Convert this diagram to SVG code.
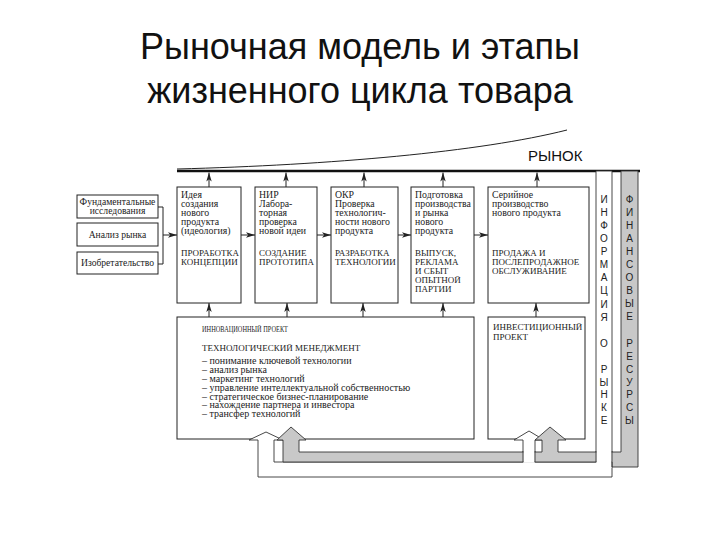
<svg xmlns="http://www.w3.org/2000/svg" width="720" height="540" viewBox="0 0 720 540">
<style>
.title{font-family:"Liberation Sans",Arial,sans-serif;font-size:36px;fill:#111;text-anchor:middle}
.box{fill:#fff;stroke:#222;stroke-width:1}
.t{font-family:"Liberation Serif","Times New Roman",serif;font-size:9.8px;fill:#222}
.c{font-family:"Liberation Serif","Times New Roman",serif;font-size:9px;fill:#222}
.l{font-family:"Liberation Serif","Times New Roman",serif;font-size:10px;fill:#222}
.tc{font-family:"Liberation Serif","Times New Roman",serif;font-size:9.6px;fill:#222;text-anchor:middle}
.v{font-family:"Liberation Sans",Arial,sans-serif;font-size:10px;fill:#222;text-anchor:middle}
.ln{fill:none;stroke:#222;stroke-width:1}
.arr{fill:none;stroke:#222;stroke-width:1;marker-end:url(#ah)}
</style>
<defs>
<marker id="ah" viewBox="0 0 10 6" refX="10" refY="3" markerWidth="9" markerHeight="5.5" markerUnits="userSpaceOnUse" orient="auto">
<path d="M0,0 L10,3 L0,6 L2.5,3 Z" fill="#222"/>
</marker>
</defs>
<rect width="720" height="540" fill="#fff"/>
<text class="title" x="360" y="59">Рыночная модель и этапы</text>
<text class="title" x="360" y="103">жизненного цикла товара</text>

<g id="market">
<path class="ln" d="M177,169 C330,165 480,152 567,130"/>
<line x1="177" y1="171" x2="640" y2="171" stroke="#111" stroke-width="2.5"/>
<text x="528" y="161" font-family="Liberation Sans,Arial,sans-serif" font-size="15" fill="#111">РЫНОК</text>
</g>

<g id="src-fund"><rect class="box" x="77" y="195" width="81" height="23"/>
<text class="tc" x="117.5" y="205">Фундаментальные</text><text class="tc" x="117.5" y="214">исследования</text></g>
<g id="src-market"><rect class="box" x="77" y="223" width="81" height="23"/>
<text class="tc" x="117.5" y="238">Анализ рынка</text></g>
<g id="src-invent"><rect class="box" x="77" y="252" width="81" height="22"/>
<text class="tc" x="117.5" y="266">Изобретательство</text></g>

<g id="stage1"><rect class="box" x="177" y="187" width="64" height="116"/>
<text class="t" x="181" y="198">Идея</text><text class="t" x="181" y="207">создания</text><text class="t" x="181" y="216">нового</text><text class="t" x="181" y="225">продукта</text><text class="t" x="181" y="234">(идеология)</text>
<text class="c" x="181" y="256">ПРОРАБОТКА</text><text class="c" x="181" y="265">КОНЦЕПЦИИ</text></g>
<g id="stage2"><rect class="box" x="255" y="187" width="62" height="116"/>
<text class="t" x="259" y="198">НИР</text><text class="t" x="259" y="207">Лабора-</text><text class="t" x="259" y="216">торная</text><text class="t" x="259" y="225">проверка</text><text class="t" x="259" y="234">новой идеи</text>
<text class="c" x="259" y="256">СОЗДАНИЕ</text><text class="c" x="259" y="265">ПРОТОТИПА</text></g>
<g id="stage3"><rect class="box" x="331" y="187" width="67" height="116"/>
<text class="t" x="335" y="198">ОКР</text><text class="t" x="335" y="207">Проверка</text><text class="t" x="335" y="216">технологич-</text><text class="t" x="335" y="225">ности нового</text><text class="t" x="335" y="234">продукта</text>
<text class="c" x="335" y="256">РАЗРАБОТКА</text><text class="c" x="335" y="265">ТЕХНОЛОГИИ</text></g>
<g id="stage4"><rect class="box" x="411" y="187" width="63" height="116"/>
<text class="t" x="415" y="198">Подготовка</text><text class="t" x="415" y="207">производства</text><text class="t" x="415" y="216">и рынка</text><text class="t" x="415" y="225">нового</text><text class="t" x="415" y="234">продукта</text>
<text class="c" x="415" y="256">ВЫПУСК,</text><text class="c" x="415" y="265">РЕКЛАМА</text><text class="c" x="415" y="274">И СБЫТ</text><text class="c" x="415" y="283">ОПЫТНОЙ</text><text class="c" x="415" y="292">ПАРТИИ</text></g>
<g id="stage5"><rect class="box" x="488" y="187" width="101" height="116"/>
<text class="t" x="492" y="198">Серийное</text><text class="t" x="492" y="207">производство</text><text class="t" x="492" y="216">нового продукта</text>
<text class="c" x="492" y="256">ПРОДАЖА И</text><text class="c" x="492" y="265">ПОСЛЕПРОДАЖНОЕ</text><text class="c" x="492" y="274">ОБСЛУЖИВАНИЕ</text></g>

<g id="innovation"><rect class="box" x="177" y="317" width="297" height="122"/>
<text class="c" x="202" y="332" font-size="9.5" textLength="86" lengthAdjust="spacingAndGlyphs">ИННОВАЦИОННЫЙ ПРОЕКТ</text>
<text class="c" x="202" y="351">ТЕХНОЛОГИЧЕСКИЙ МЕНЕДЖМЕНТ</text>
<text class="l" x="202" y="363.5">– понимание ключевой технологии</text>
<text class="l" x="202" y="372.5">– анализ рынка</text>
<text class="l" x="202" y="381.5">– маркетинг технологий</text>
<text class="l" x="202" y="390.5">– управление интеллектуальной собственностью</text>
<text class="l" x="202" y="399.5">– стратегическое бизнес-планирование</text>
<text class="l" x="202" y="408">– нахождение партнера и инвестора</text>
<text class="l" x="202" y="417">– трансфер технологий</text></g>
<g id="investment"><rect class="box" x="488" y="317" width="97" height="122"/>
<text class="c" x="493" y="330">ИНВЕСТИЦИОННЫЙ</text><text class="c" x="493" y="340">ПРОЕКТ</text></g>

<g id="info-flow">
<path d="M596,171 L596,462 L535,462 L535,440 L544,440 L529,431 L514,440 L523,440 L523,462 L274,462 L274,440 L283,440 L266,432 L249,440 L258,440 L258,477 L612,477 L612,171 Z" fill="#fff" stroke="#333" stroke-width="0.9"/>
</g>
<g id="finance-flow">
<path d="M621,171 L638,171 L638,467 L612,467 L612,462 L283,462 L283,440 L277,440 L291,427 L306,440 L299,440 L299,452 L542,452 L542,440 L535,440 L550,427 L566,440 L558,440 L558,452 L621,452 Z" fill="#c8c8c8" stroke="#333" stroke-width="0.9"/>
<rect x="523.5" y="451" width="11" height="11.8" fill="#fff"/>
<rect x="596.5" y="451" width="15" height="16.8" fill="#fff"/>
<path d="M523,451 V462 M535,451 V462 M596,451 V462 M612,451 V467" stroke="#333" stroke-width="0.9" fill="none"/>
</g>

<g id="info-label">
<text class="v" x="604" y="203">И</text><text class="v" x="604" y="216">Н</text><text class="v" x="604" y="229">Ф</text><text class="v" x="604" y="242">О</text><text class="v" x="604" y="255">Р</text><text class="v" x="604" y="268">М</text><text class="v" x="604" y="281">А</text><text class="v" x="604" y="294">Ц</text><text class="v" x="604" y="308">И</text><text class="v" x="604" y="321">Я</text>
<text class="v" x="604" y="347">О</text>
<text class="v" x="604" y="373">Р</text><text class="v" x="604" y="386">Ы</text><text class="v" x="604" y="398">Н</text><text class="v" x="604" y="411">К</text><text class="v" x="604" y="424">Е</text>
</g>
<g id="finance-label">
<text class="v" x="629.5" y="203">Ф</text><text class="v" x="629.5" y="216">И</text><text class="v" x="629.5" y="229">Н</text><text class="v" x="629.5" y="242">А</text><text class="v" x="629.5" y="255">Н</text><text class="v" x="629.5" y="268">С</text><text class="v" x="629.5" y="281">О</text><text class="v" x="629.5" y="294">В</text><text class="v" x="629.5" y="307">Ы</text><text class="v" x="629.5" y="320">Е</text>
<text class="v" x="629.5" y="347">Р</text><text class="v" x="629.5" y="360">Е</text><text class="v" x="629.5" y="373">С</text><text class="v" x="629.5" y="386">У</text><text class="v" x="629.5" y="398">Р</text><text class="v" x="629.5" y="411">С</text><text class="v" x="629.5" y="424">Ы</text>
</g>

<g id="connectors">
<path class="ln" d="M158,207 H163 V264 H158"/>
<line class="arr" x1="163" y1="235" x2="177" y2="235"/>
<line class="arr" x1="241" y1="235" x2="255" y2="235"/>
<line class="arr" x1="317" y1="235" x2="331" y2="235"/>
<line class="arr" x1="398" y1="235" x2="411" y2="235"/>
<line class="arr" x1="474" y1="235" x2="488" y2="235"/>
<line class="arr" x1="209" y1="187" x2="209" y2="172.5"/>
<line class="arr" x1="286" y1="187" x2="286" y2="172.5"/>
<line class="arr" x1="364" y1="187" x2="364" y2="172.5"/>
<line class="arr" x1="443" y1="187" x2="443" y2="172.5"/>
<line class="arr" x1="537" y1="187" x2="537" y2="172.5"/>
<line class="arr" x1="209" y1="317" x2="209" y2="303"/>
<line class="arr" x1="287" y1="317" x2="287" y2="303"/>
<line class="arr" x1="363" y1="317" x2="363" y2="303"/>
<line class="arr" x1="443" y1="317" x2="443" y2="303"/>
<line class="arr" x1="536" y1="317" x2="536" y2="303"/>
</g>
</svg>
